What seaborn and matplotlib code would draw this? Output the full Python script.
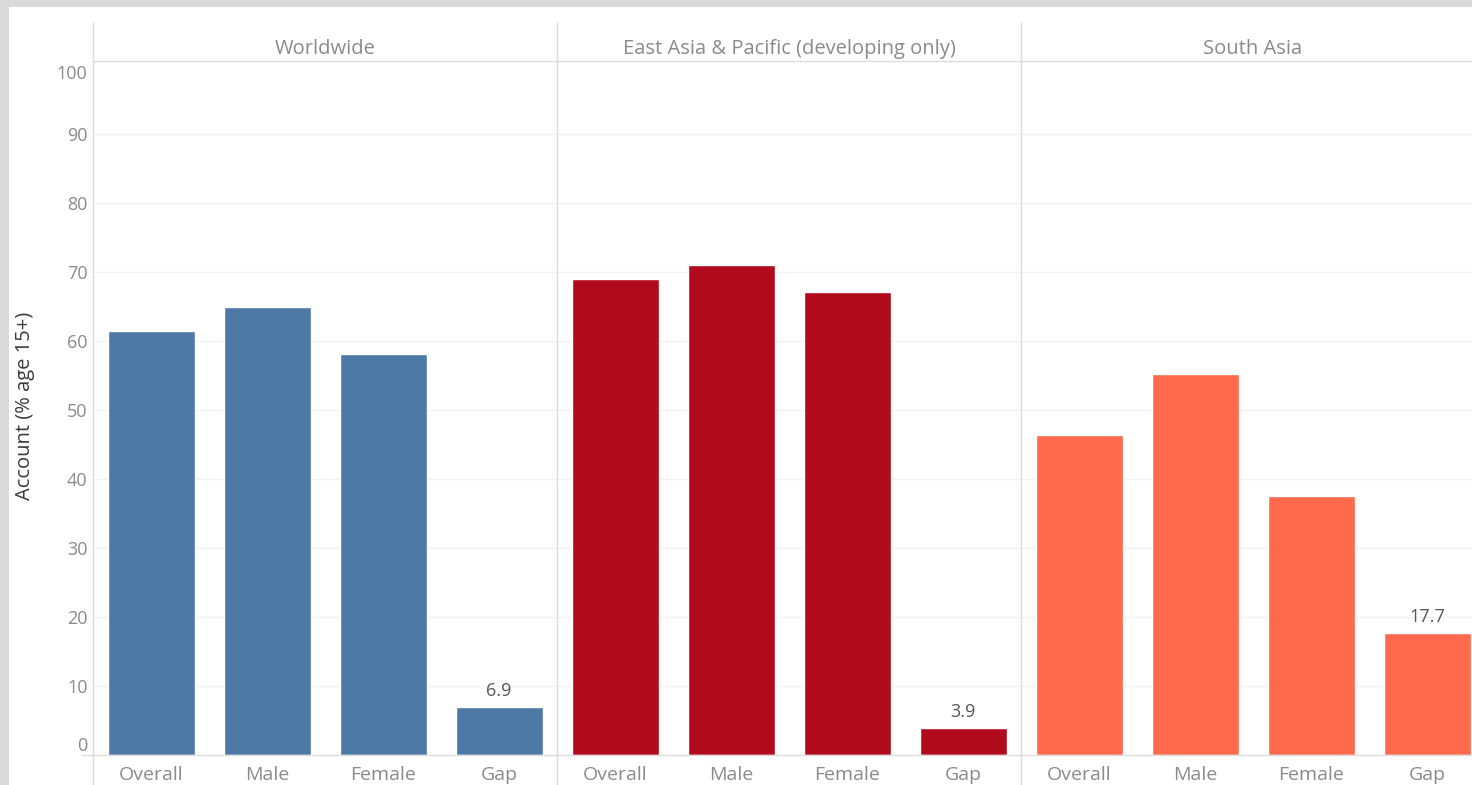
import matplotlib
matplotlib.use("Agg")
import matplotlib.pyplot as plt
from matplotlib.lines import Line2D
from matplotlib.patches import Rectangle
import seaborn as sns
import pandas as pd

sns.set_theme(style="white")
plt.rcParams['font.family'] = ['Open Sans', 'DejaVu Sans']

regions = ["Worldwide", "East Asia & Pacific (developing only)", "South Asia"]
categories = ["Overall", "Male", "Female", "Gap"]
worldwide = [61.5, 65.0, 58.1, 6.9]
east_asia = [69.0, 71.0, 67.1, 3.9]
south_asia = [46.4, 55.2, 37.5, 17.7]
colors = ["#4e79a7", "#b20a1d", "#ff6a4d"]
yticks = [0, 10, 20, 30, 40, 50, 60, 70, 80, 90, 100]

series = [worldwide, east_asia, south_asia]

W, H = 1472, 785
fig = plt.figure(figsize=(W / 100, H / 100), dpi=100, facecolor="white")

def fx(px):
    return px / W

def fy(py):
    return 1 - py / H

y0, ytop = 755, 61
panel_x = [93, 557, 1021]
panel_w = 464
grey_txt = "#8a8a8a"
line_c = "#dcdcdc"

for i, (reg, vals, col) in enumerate(zip(regions, series, colors)):
    ax = fig.add_axes([fx(panel_x[i]), fy(y0), fx(panel_w), (y0 - ytop) / H])
    df = pd.DataFrame({"cat": categories, "val": vals})
    sns.barplot(data=df, x="cat", y="val", color=col, width=0.75, saturation=1,
                ax=ax, errorbar=None)
    ax.set_ylim(0, (y0 - ytop) / 6.9)
    ax.set_xlim(-0.5, 3.5)
    ax.set_xlabel("")
    ax.set_ylabel("")
    ax.set_facecolor("none")
    for s in ax.spines.values():
        s.set_visible(False)
    ax.set_yticks(yticks)
    ax.yaxis.grid(True, color="#f2f2f2", linewidth=1)
    gl = ax.get_ygridlines()
    gl[0].set_visible(False)
    gl[-1].set_visible(False)
    ax.set_axisbelow(True)
    ax.tick_params(axis="x", length=0, pad=8, labelsize=14, labelcolor=grey_txt)
    if i == 0:
        ax.tick_params(axis="y", length=0, pad=4, labelsize=13, labelcolor=grey_txt)
        labs = ax.get_yticklabels()
        labs[0].set_va("bottom")
        labs[-1].set_va("top")
    else:
        ax.tick_params(axis="y", length=0, labelleft=False)
    gap_labels = ["", "", "", f"{vals[3]:.1f}"]
    ax.bar_label(ax.containers[0], labels=gap_labels, padding=5, fontsize=13,
                 color="#555555")
    fig.text(fx(panel_x[i] + panel_w / 2), fy(49), reg, ha="center", va="center",
             fontsize=14.5, color=grey_txt)

# gray frame border
fig.add_artist(Rectangle((0, fy(7)), 1, 7 / H, transform=fig.transFigure,
                         facecolor="#dadada", edgecolor="none", zorder=10))
fig.add_artist(Rectangle((0, 0), fx(9), 1, transform=fig.transFigure,
                         facecolor="#dadada", edgecolor="none", zorder=10))

# panel separators and header line
for x in panel_x:
    fig.add_artist(Line2D([fx(x), fx(x)], [0, fy(22)], color=line_c, linewidth=1))
fig.add_artist(Line2D([fx(93), 1], [fy(61), fy(61)], color=line_c, linewidth=1))
fig.add_artist(Line2D([fx(82), 1], [fy(755), fy(755)], color=line_c, linewidth=1))

fig.text(fx(25), fy(406), "Account (% age 15+)", rotation=90, ha="center",
         va="center", fontsize=14.5, color="#3a3a3a")

fig.savefig("out.png", dpi=100, facecolor="white")
